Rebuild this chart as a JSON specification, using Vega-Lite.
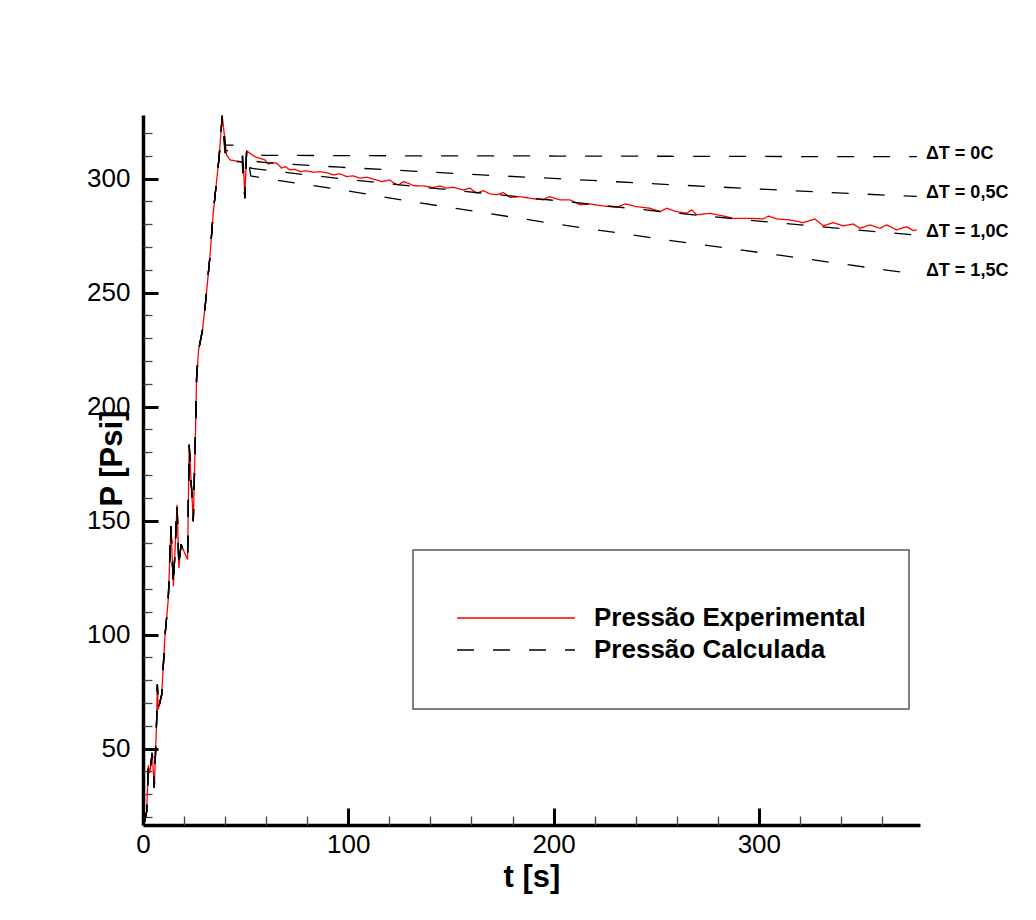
{
  "$schema": "https://vega.github.io/schema/vega-lite/v6.json",
  "width": 777,
  "height": 710,
  "autosize": "none",
  "padding": {"left": 143, "top": 115, "right": 116, "bottom": 95},
  "background": "white",
  "config": {
    "view": {"stroke": null},
    "font": "Liberation Sans",
    "axis": {"grid": false, "labelOverlap": false, "labelColor": "black", "titleColor": "black", "labelFont": "Liberation Sans", "titleFont": "Liberation Sans"},
    "legend": {
      "orient": "none",
      "legendX": 270,
      "legendY": 435,
      "strokeColor": "#555555",
      "strokeWidth": 1.5,
      "fillColor": "white",
      "padding": 43,
      "symbolType": "stroke",
      "symbolSize": 13924,
      "symbolStrokeWidth": 1.5,
      "clipHeight": 32,
      "rowPadding": 0,
      "labelFont": "Liberation Sans",
      "labelFontSize": 26,
      "labelFontWeight": "bold",
      "labelColor": "black",
      "labelOffset": 18,
      "labelLimit": 600,
      "titleFontSize": 4,
      "titlePadding": 5
    }
  },
  "datasets": {
    "exp": [
      {"t": 0.8, "P": 18.0}, {"t": 1.8, "P": 22.5}, {"t": 2.6, "P": 42.7}, {"t": 3.3, "P": 39.3},
      {"t": 4.5, "P": 48.1}, {"t": 5.5, "P": 32.8}, {"t": 6.6, "P": 61.3}, {"t": 7.0, "P": 78.1},
      {"t": 7.4, "P": 67.1}, {"t": 9.1, "P": 73.7}, {"t": 10.7, "P": 99.3}, {"t": 12.3, "P": 115.4},
      {"t": 13.6, "P": 147.5}, {"t": 14.8, "P": 121.2}, {"t": 16.6, "P": 157.0}, {"t": 17.5, "P": 129.2},
      {"t": 18.5, "P": 139.5}, {"t": 21.7, "P": 132.9}, {"t": 22.5, "P": 183.3}, {"t": 24.5, "P": 149.7},
      {"t": 25.6, "P": 189.9}, {"t": 26.1, "P": 212.5}, {"t": 27.1, "P": 224.9}, {"t": 29.0, "P": 233.7},
      {"t": 30.6, "P": 246.8}, {"t": 32.6, "P": 265.8}, {"t": 34.2, "P": 284.8}, {"t": 35.9, "P": 299.4},
      {"t": 37.1, "P": 309.6}, {"t": 38.6, "P": 327.5}, {"t": 39.9, "P": 317.0}, {"t": 40.7, "P": 310.4},
      {"t": 42.4, "P": 308.2}, {"t": 45.0, "P": 307.8}, {"t": 47.2, "P": 307.5}, {"t": 48.9, "P": 307.0},
      {"t": 49.6, "P": 291.8}, {"t": 50.5, "P": 312.2}, {"t": 52.1, "P": 311.1}, {"t": 54.6, "P": 309.6},
      {"t": 57.0, "P": 308.9}, {"t": 59.4, "P": 308.2}, {"t": 61.0, "P": 306.4}, {"t": 62.7, "P": 307.0},
      {"t": 65.1, "P": 306.8}, {"t": 67.6, "P": 304.6}, {"t": 69.2, "P": 305.3}, {"t": 71.6, "P": 303.8},
      {"t": 74.0, "P": 304.1}, {"t": 76.5, "P": 303.1}, {"t": 79.7, "P": 303.4}, {"t": 83.0, "P": 302.8},
      {"t": 86.0, "P": 303.0}, {"t": 89.5, "P": 302.6}, {"t": 92.7, "P": 301.6}, {"t": 96.0, "P": 302.1},
      {"t": 99.2, "P": 300.9}, {"t": 102.4, "P": 301.2}, {"t": 105.7, "P": 300.2}, {"t": 109.0, "P": 300.6},
      {"t": 113.8, "P": 299.4}, {"t": 116.3, "P": 298.7}, {"t": 120.3, "P": 299.4}, {"t": 121.9, "P": 298.2},
      {"t": 124.4, "P": 297.2}, {"t": 126.8, "P": 298.7}, {"t": 129.2, "P": 298.0}, {"t": 131.7, "P": 296.9},
      {"t": 136.5, "P": 296.8}, {"t": 141.4, "P": 296.1}, {"t": 144.7, "P": 296.8}, {"t": 147.9, "P": 295.8},
      {"t": 151.1, "P": 296.2}, {"t": 156.0, "P": 295.0}, {"t": 159.3, "P": 295.8}, {"t": 162.5, "P": 293.6},
      {"t": 165.8, "P": 294.7}, {"t": 169.0, "P": 293.3}, {"t": 172.3, "P": 292.9}, {"t": 175.5, "P": 293.9},
      {"t": 178.8, "P": 291.8}, {"t": 183.6, "P": 292.1}, {"t": 188.5, "P": 291.4}, {"t": 191.8, "P": 291.0},
      {"t": 195.0, "P": 290.7}, {"t": 197.9, "P": 292.1}, {"t": 203.1, "P": 290.7}, {"t": 208.0, "P": 290.7},
      {"t": 212.9, "P": 288.5}, {"t": 217.7, "P": 288.9}, {"t": 224.2, "P": 288.0}, {"t": 230.7, "P": 287.4},
      {"t": 234.8, "P": 288.9}, {"t": 240.5, "P": 287.7}, {"t": 247.0, "P": 287.0}, {"t": 251.8, "P": 285.5},
      {"t": 255.1, "P": 287.0}, {"t": 260.0, "P": 285.5}, {"t": 264.8, "P": 284.8}, {"t": 267.3, "P": 286.3},
      {"t": 269.7, "P": 284.1}, {"t": 276.2, "P": 284.8}, {"t": 282.7, "P": 283.6}, {"t": 287.5, "P": 282.6},
      {"t": 295.6, "P": 282.6}, {"t": 302.1, "P": 282.3}, {"t": 304.6, "P": 283.6}, {"t": 308.7, "P": 282.3},
      {"t": 315.1, "P": 281.9}, {"t": 321.6, "P": 280.7}, {"t": 327.3, "P": 282.3}, {"t": 331.4, "P": 279.3},
      {"t": 336.2, "P": 280.7}, {"t": 341.1, "P": 279.3}, {"t": 346.0, "P": 280.1}, {"t": 349.2, "P": 278.2},
      {"t": 354.1, "P": 279.7}, {"t": 359.0, "P": 278.2}, {"t": 362.2, "P": 279.7}, {"t": 367.1, "P": 277.5},
      {"t": 372.0, "P": 278.9}, {"t": 375.2, "P": 277.2}, {"t": 376.9, "P": 277.5}
    ],
    "calc": [
      {"t": 0.8, "dT0": 18.0, "dT05": 18.0, "dT10": 18.0, "dT15": 18.0},
      {"t": 1.8, "dT0": 22.5, "dT05": 22.5, "dT10": 22.5, "dT15": 22.5},
      {"t": 2.6, "dT0": 42.7, "dT05": 42.7, "dT10": 42.7, "dT15": 42.7},
      {"t": 3.3, "dT0": 39.3, "dT05": 39.3, "dT10": 39.3, "dT15": 39.3},
      {"t": 4.5, "dT0": 48.1, "dT05": 48.1, "dT10": 48.1, "dT15": 48.1},
      {"t": 5.5, "dT0": 32.8, "dT05": 32.8, "dT10": 32.8, "dT15": 32.8},
      {"t": 6.6, "dT0": 61.3, "dT05": 61.3, "dT10": 61.3, "dT15": 61.3},
      {"t": 7.0, "dT0": 78.1, "dT05": 78.1, "dT10": 78.1, "dT15": 78.1},
      {"t": 7.4, "dT0": 67.1, "dT05": 67.1, "dT10": 67.1, "dT15": 67.1},
      {"t": 9.1, "dT0": 73.7, "dT05": 73.7, "dT10": 73.7, "dT15": 73.7},
      {"t": 10.7, "dT0": 99.3, "dT05": 99.3, "dT10": 99.3, "dT15": 99.3},
      {"t": 12.3, "dT0": 115.4, "dT05": 115.4, "dT10": 115.4, "dT15": 115.4},
      {"t": 13.6, "dT0": 147.5, "dT05": 147.5, "dT10": 147.5, "dT15": 147.5},
      {"t": 14.8, "dT0": 121.2, "dT05": 121.2, "dT10": 121.2, "dT15": 121.2},
      {"t": 16.6, "dT0": 157.0, "dT05": 157.0, "dT10": 157.0, "dT15": 157.0},
      {"t": 17.5, "dT0": 129.2, "dT05": 129.2, "dT10": 129.2, "dT15": 129.2},
      {"t": 18.5, "dT0": 139.5, "dT05": 139.5, "dT10": 139.5, "dT15": 139.5},
      {"t": 21.7, "dT0": 132.9, "dT05": 132.9, "dT10": 132.9, "dT15": 132.9},
      {"t": 22.5, "dT0": 183.3, "dT05": 183.3, "dT10": 183.3, "dT15": 183.3},
      {"t": 24.5, "dT0": 149.7, "dT05": 149.7, "dT10": 149.7, "dT15": 149.7},
      {"t": 25.6, "dT0": 189.9, "dT05": 189.9, "dT10": 189.9, "dT15": 189.9},
      {"t": 26.1, "dT0": 212.5, "dT05": 212.5, "dT10": 212.5, "dT15": 212.5},
      {"t": 27.1, "dT0": 224.9, "dT05": 224.9, "dT10": 224.9, "dT15": 224.9},
      {"t": 29.0, "dT0": 233.7, "dT05": 233.7, "dT10": 233.7, "dT15": 233.7},
      {"t": 30.6, "dT0": 246.8, "dT05": 246.8, "dT10": 246.8, "dT15": 246.8},
      {"t": 32.6, "dT0": 265.8, "dT05": 265.8, "dT10": 265.8, "dT15": 265.8},
      {"t": 34.2, "dT0": 284.8, "dT05": 284.8, "dT10": 284.8, "dT15": 284.8},
      {"t": 35.9, "dT0": 299.4, "dT05": 299.4, "dT10": 299.4, "dT15": 299.4},
      {"t": 37.1, "dT0": 309.6, "dT05": 309.6, "dT10": 309.6, "dT15": 309.6},
      {"t": 38.6, "dT0": 327.5, "dT05": 327.5, "dT10": 327.5, "dT15": 327.5},
      {"t": 40.2, "dT0": 314.7, "dT05": 312.3, "dT10": 310.0, "dT15": 307.7},
      {"t": 48.3, "dT0": 314.7, "dT05": 312.0, "dT10": 309.7, "dT15": 307.3},
      {"t": 49.6, "dT0": 291.4, "dT05": 291.4, "dT10": 291.4, "dT15": 291.4},
      {"t": 50.5, "dT0": 312.6, "dT05": 312.6, "dT10": 312.6, "dT15": 312.6},
      {"t": 52.5, "dT0": 310.4, "dT05": 307.8, "dT10": 304.6, "dT15": 301.2},
      {"t": 60.0, "dT0": 310.2, "dT05": 307.0, "dT10": 303.7, "dT15": 300.0},
      {"t": 96.0, "dT0": 310.1, "dT05": 305.0, "dT10": 300.0, "dT15": 295.2},
      {"t": 131.0, "dT0": 310.0, "dT05": 303.3, "dT10": 296.7, "dT15": 289.9},
      {"t": 167.0, "dT0": 310.0, "dT05": 301.5, "dT10": 293.5, "dT15": 284.9},
      {"t": 202.0, "dT0": 309.9, "dT05": 300.0, "dT10": 290.3, "dT15": 280.0},
      {"t": 256.0, "dT0": 309.8, "dT05": 297.4, "dT10": 285.2, "dT15": 273.0},
      {"t": 310.0, "dT0": 309.7, "dT05": 295.0, "dT10": 280.5, "dT15": 266.4},
      {"t": 363.0, "dT0": 309.6, "dT05": 292.7, "dT10": 276.3, "dT15": 259.8},
      {"t": 377.0, "dT0": 309.6, "dT05": 292.2, "dT10": 275.2, "dT15": 258.2}
    ],
    "names": [
      {"dT": "dT0", "label": "ΔT = 0C"},
      {"dT": "dT05", "label": "ΔT = 0,5C"},
      {"dT": "dT10", "label": "ΔT = 1,0C"},
      {"dT": "dT15", "label": "ΔT = 1,5C"}
    ]
  },
  "resolve": {"axis": {"x": "independent", "y": "independent"}},
  "layer": [
    {
      "data": {"name": "exp"},
      "mark": {"type": "line", "strokeWidth": 1.3},
      "encoding": {
        "x": {
          "field": "t", "type": "quantitative",
          "scale": {"domain": [0, 378.5], "nice": false, "zero": false},
          "axis": {
            "orient": "bottom", "values": [0, 100, 200, 300],
            "domainWidth": 3.5, "domainColor": "black",
            "tickColor": "black", "tickWidth": 3, "tickSize": -17,
            "labelFontSize": 26, "labelPadding": 23, "labelFlush": false, "labelOverlap": false,
            "title": "t [s]", "titleFontSize": 31, "titleFontWeight": "bold",
            "titleBaseline": "alphabetic", "titleY": 61
          }
        },
        "y": {
          "field": "P", "type": "quantitative",
          "scale": {"domain": [16.5, 327.9], "nice": false, "zero": false},
          "axis": {
            "orient": "left", "values": [50, 100, 150, 200, 250, 300],
            "domainWidth": 3.5, "domainColor": "black",
            "tickColor": "black", "tickWidth": 3, "tickSize": -15,
            "labelFontSize": 26, "labelPadding": 28, "labelOverlap": false,
            "title": "P [Psi]", "titleFontSize": 31, "titleFontWeight": "bold",
            "titleAngle": -90, "titleX": -31, "titleY": 343,
            "titleAlign": "center", "titleBaseline": "middle"
          }
        },
        "color": {
          "datum": "Pressão Experimental", "type": "nominal",
          "scale": {"domain": ["Pressão Experimental", "Pressão Calculada"], "range": ["#ff0000", "#000000"]},
          "legend": {"title": "\u00a0"}
        },
        "strokeDash": {
          "datum": "Pressão Experimental", "type": "nominal",
          "scale": {"domain": ["Pressão Experimental", "Pressão Calculada"], "range": [[1, 0], [17, 19]]},
          "legend": {"title": "\u00a0"}
        }
      }
    },
    {
      "data": {"name": "calc"},
      "transform": [{"fold": ["dT0", "dT05", "dT10", "dT15"], "as": ["dT", "P"]}],
      "mark": {"type": "line", "strokeWidth": 1.3},
      "encoding": {
        "x": {
          "field": "t", "type": "quantitative",
          "axis": {
            "orient": "bottom", "values": [20, 40, 60, 80, 120, 140, 160, 180, 220, 240, 260, 280, 320, 340, 360],
            "domain": false, "labels": false, "title": null,
            "tickColor": "#444444", "tickWidth": 1.3, "tickSize": -9
          }
        },
        "y": {
          "field": "P", "type": "quantitative",
          "axis": {
            "orient": "left", "values": [20, 30, 40, 60, 70, 80, 90, 110, 120, 130, 140, 160, 170, 180, 190, 210, 220, 230, 240, 260, 270, 280, 290, 310, 320],
            "domain": false, "labels": false, "title": null,
            "tickColor": "#444444", "tickWidth": 1.3, "tickSize": -9
          }
        },
        "detail": {"field": "dT"},
        "color": {"datum": "Pressão Calculada", "type": "nominal"},
        "strokeDash": {"datum": "Pressão Calculada", "type": "nominal"}
      }
    },
    {
      "data": {"name": "calc"},
      "transform": [
        {"fold": ["dT0", "dT05", "dT10", "dT15"], "as": ["dT", "P"]},
        {"aggregate": [{"op": "argmax", "field": "t", "as": "last"}], "groupby": ["dT"]},
        {"lookup": "dT", "from": {"data": {"name": "names"}, "key": "dT", "fields": ["label"]}}
      ],
      "mark": {"type": "text", "align": "left", "baseline": "middle", "dx": 9, "dy": -3, "fontSize": 18, "fontWeight": "bold", "font": "Liberation Sans", "color": "black"},
      "encoding": {
        "x": {"field": "last.t", "type": "quantitative", "axis": null},
        "y": {"field": "last.P", "type": "quantitative", "axis": null},
        "text": {"field": "label"}
      }
    }
  ]
}
